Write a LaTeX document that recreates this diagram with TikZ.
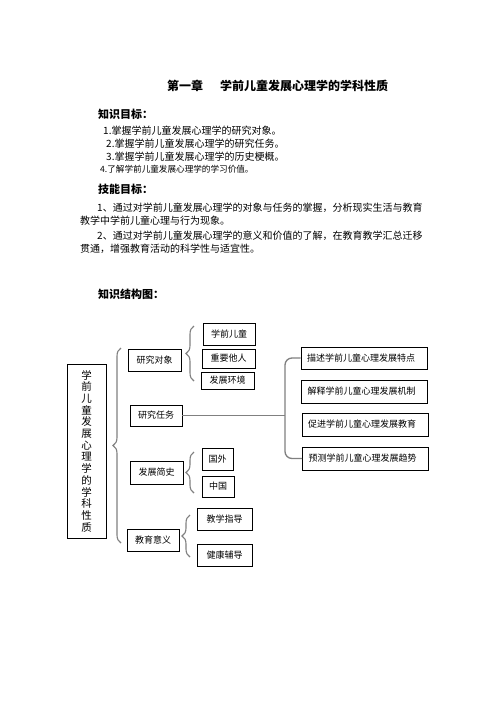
\documentclass[tikz,border=0pt]{standalone}
\usepackage{fontspec}
\usetikzlibrary{decorations.pathreplacing}
\newfontfamily\cjk{Noto Sans CJK SC}

\begin{document}
\begin{tikzpicture}[x=1pt, y=-1pt,
   box/.style={draw, line width=0.7pt, inner sep=0pt, font=\cjk\fontsize{9}{9}\selectfont},
   wbox/.style={box, text width=114pt, inner xsep=6pt, align=left, minimum height=22pt},
   brc/.style={draw=gray, line width=1.1pt, decorate, decoration={brace, amplitude=8pt}},
   gline/.style={draw=gray, line width=1.3pt},
   head/.style={anchor=west, inner sep=0pt, font=\cjk\bfseries\fontsize{11}{11}\selectfont},
   txt/.style={anchor=west, inner sep=0pt, font=\cjk\fontsize{10}{10}\selectfont},]
   \useasboundingbox[fill=white] (0,0) rectangle (496,702);

   % heading and goals
   \node[head, font=\cjk\bfseries\fontsize{12}{12}\selectfont] (zhang) at (167,86) {第一章};
   \node[head, font=\cjk\bfseries\fontsize{12}{12}\selectfont] (timu) at (220,86) {学前儿童发展心理学的学科性质};
   \node[head] (zsmb) at (98,114) {知识目标：};
   \node[txt] (mb1) at (103,131) {1.掌握学前儿童发展心理学的研究对象。};
   \node[txt] (mb2) at (106,144) {2.掌握学前儿童发展心理学的研究任务。};
   \node[txt] (mb3) at (106,157) {3.掌握学前儿童发展心理学的历史梗概。};
   \node[txt, font=\cjk\fontsize{8.6}{8.6}\selectfont] (mb4) at (100,169) {4.了解学前儿童发展心理学的学习价值。};
   \node[head] (jnmb) at (98,189) {技能目标：};
   \node[txt] (jn1) at (97,208) {1、通过对学前儿童发展心理学的对象与任务的掌握，分析现实生活与教育};
   \node[txt] (jn2) at (80,221) {教学中学前儿童心理与行为现象。};
   \node[txt] (jn3) at (97,236) {2、通过对学前儿童发展心理学的意义和价值的了解，在教育教学汇总迁移};
   \node[txt] (jn4) at (80,249) {贯通，增强教育活动的科学性与适宜性。};
   \node[head] (jgt) at (98,294) {知识结构图：};

   % structure map
   \node[box, minimum width=39pt, minimum height=174pt, align=center, font=\cjk\fontsize{10.5}{11.7}\selectfont] (xkxz) at (86.5,451)
      {学\\前\\儿\\童\\发\\展\\心\\理\\学\\的\\学\\科\\性\\质};
   \node[box, minimum width=53pt, minimum height=22pt] (yjdx) at (154.5,360) {研究对象};
   \node[box, minimum width=52pt, minimum height=21pt] (yjrw) at (156,415.5) {研究任务};
   \node[box, minimum width=53pt, minimum height=23pt] (fzjs) at (156.5,472.5) {发展简史};
   \node[box, minimum width=52pt, minimum height=22pt] (jyyy) at (153,540) {教育意义};

   \node[box, minimum width=52pt, minimum height=22pt] (xqet) at (229,334) {学前儿童};
   \node[box, minimum width=53pt, minimum height=19pt] (zyta) at (228.5,358.5) {重要他人};
   \node[box, minimum width=53pt, minimum height=17pt] (fzhj) at (227.5,380.5) {发展环境};
   \node[box, minimum width=31pt, minimum height=22pt] (guowai) at (217.5,459) {国外};
   \node[box, minimum width=32pt, minimum height=21pt] (zhongguo) at (218,486.5) {中国};
   \node[box, minimum width=55pt, minimum height=22pt] (jxzd) at (224.5,519) {教学指导};
   \node[box, minimum width=55pt, minimum height=22pt] (jkfd) at (224.5,555) {健康辅导};

   \node[wbox] (miaoshu) at (364,358) {描述学前儿童心理发展特点};
   \node[wbox, minimum height=23pt] (jieshi) at (364.5,391.5) {解释学前儿童心理发展机制};
   \node[wbox, minimum height=23pt] (cujin) at (365,424.5) {促进学前儿童心理发展教育};
   \node[wbox, minimum height=23pt] (yuce) at (365.5,458.5) {预测学前儿童心理发展趋势};

   % braces
   \draw[brc] (121,543) -- (121,348);
   \draw[brc] (194,381) -- (194,326);
   \draw[brc] (194,493) -- (194,452);
   \draw[brc] (190,557) -- (190,515);

   \coordinate (bar) at (285,415.5);
   \draw[gline] (yjrw.east) -- (bar);
   \draw[gline, rounded corners=7pt] (miaoshu.west) -| (bar) |- (yuce.west);

\end{tikzpicture}
\end{document}
